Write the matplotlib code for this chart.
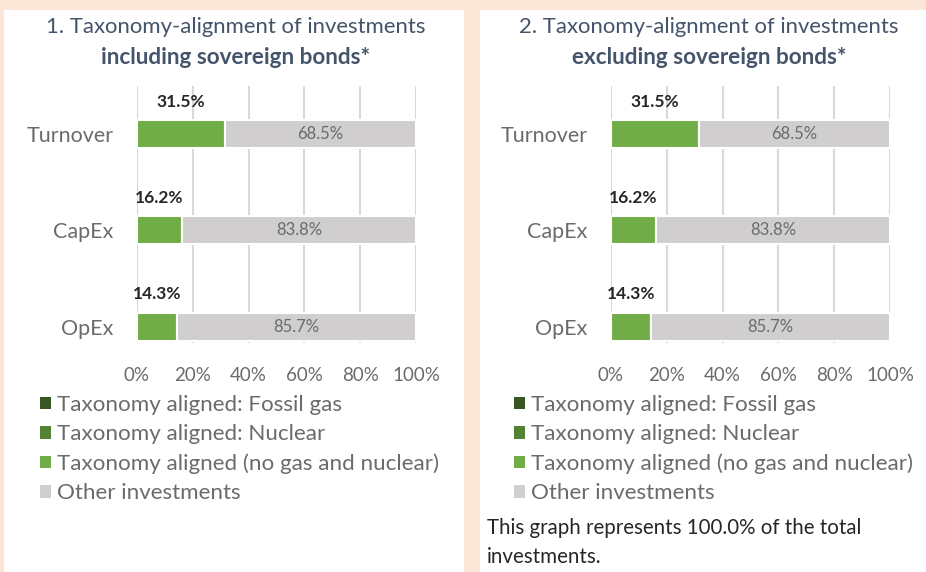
import matplotlib.pyplot as plt
from matplotlib.patches import Rectangle

plt.rcParams["font.family"] = ["Lato", "DejaVu Sans"]

# data
categories = ["Turnover", "CapEx", "OpEx"]
fossil_gas_incl = [0.0, 0.0, 0.0]
nuclear_incl = [0.0, 0.0, 0.0]
aligned_incl = [31.5, 16.2, 14.3]
other_incl = [68.5, 83.8, 85.7]

fossil_gas_excl = [0.0, 0.0, 0.0]
nuclear_excl = [0.0, 0.0, 0.0]
aligned_excl = [31.5, 16.2, 14.3]
other_excl = [68.5, 83.8, 85.7]

series_names = ["Taxonomy aligned: Fossil gas", "Taxonomy aligned: Nuclear",
                "Taxonomy aligned (no gas and nuclear)", "Other investments"]
colors = ["#375623", "#548235", "#70AD47", "#D0CECE"]
ticks = [0, 20, 40, 60, 80, 100]

W, H = 926, 572
fig = plt.figure(figsize=(W / 100, H / 100), dpi=100)
fig.patch.set_facecolor("#FBE5D6")


def box(x0, y0, x1, y1):
    # pixel box (top-left origin) -> figure fraction rect
    return [x0 / W, 1 - y1 / H, (x1 - x0) / W, (y1 - y0) / H]


# white panels
for x0, x1 in [(4, 464), (480, 926)]:
    fig.patches.append(Rectangle((x0 / W, 0), (x1 - x0) / W, 1 - 10 / H,
                                 transform=fig.transFigure, facecolor="white",
                                 edgecolor="none", zorder=-1))


def panel(ax_box, title1, title2, tcx, fossil, nuclear, aligned, other, leg_x):
    ax = fig.add_axes(box(*ax_box))
    ax.set_zorder(2)
    ax.set_facecolor("none")
    y = list(range(len(categories)))
    h = 0.29
    left = [0.0] * len(y)
    for vals, c in zip([fossil, nuclear, aligned, other], colors):
        ax.barh(y, vals, left=left, height=h, color=c, edgecolor="white", linewidth=1.5, zorder=3)
        left = [a + b for a, b in zip(left, vals)]
    gl = [a + b + c for a, b, c in zip(fossil, nuclear, aligned)]
    for i in y:
        ax.text(fossil[i] + nuclear[i] + aligned[i] / 2, i - h / 2 - 0.19, f"{aligned[i]:.1f}%",
                ha="center", va="center", fontsize=12.5, fontweight="bold", color="#262626", zorder=4)
        ax.text(gl[i] + other[i] / 2, i, f"{other[i]:.1f}%", ha="center", va="center",
                fontsize=12, color="#6b6b6b", zorder=4)
    ax.set_xlim(0, 100)
    ax.set_ylim(2.17, -0.5)
    ax.set_xticks(ticks)
    ax.set_xticklabels([f"{t}%" for t in ticks])
    ax.set_yticks(y)
    ax.set_yticklabels(categories)
    ax.tick_params(length=0, colors="#6b6b6b")
    ax.tick_params(axis="x", pad=17, labelsize=13.5)
    ax.tick_params(axis="y", pad=17, labelsize=15.5)
    ax.grid(axis="x", color="#D9D9D9", linewidth=1.5, zorder=0)
    for s in ax.spines.values():
        s.set_visible(False)

    fig.text(tcx / W, 1 - 27 / H, title1, ha="center", va="center", fontsize=15.9, color="#44546A")
    fig.text(tcx / W, 1 - 57 / H, title2, ha="center", va="center", fontsize=16.2,
             fontweight="bold", color="#44546A")

    handles = [Rectangle((0, 0), 1, 1, facecolor=c) for c in colors]
    fig.legend(handles, series_names, loc="upper left",
               bbox_to_anchor=(leg_x / W, 1 - 395 / H), frameon=False, fontsize=16.1,
               handlelength=0.5, handleheight=0.5, handletextpad=0.25,
               labelspacing=0.41, borderpad=0, borderaxespad=0, labelcolor="#6b6b6b")
    return ax


panel((137, 86, 416, 343), "1. Taxonomy-alignment of investments", "including sovereign bonds*",
      236, fossil_gas_incl, nuclear_incl, aligned_incl, other_incl, 40)
panel((611, 86, 890, 343), "2. Taxonomy-alignment of investments", "excluding sovereign bonds*",
      709, fossil_gas_excl, nuclear_excl, aligned_excl, other_excl, 514)

fig.text(487 / W, 1 - 528 / H, "This graph represents 100.0% of the total", ha="left", va="center",
         fontsize=14.8, color="#262626")
fig.text(487 / W, 1 - 557 / H, "investments.", ha="left", va="center", fontsize=14.8, color="#262626")

fig.savefig("out.png", dpi=100, facecolor=fig.get_facecolor())
